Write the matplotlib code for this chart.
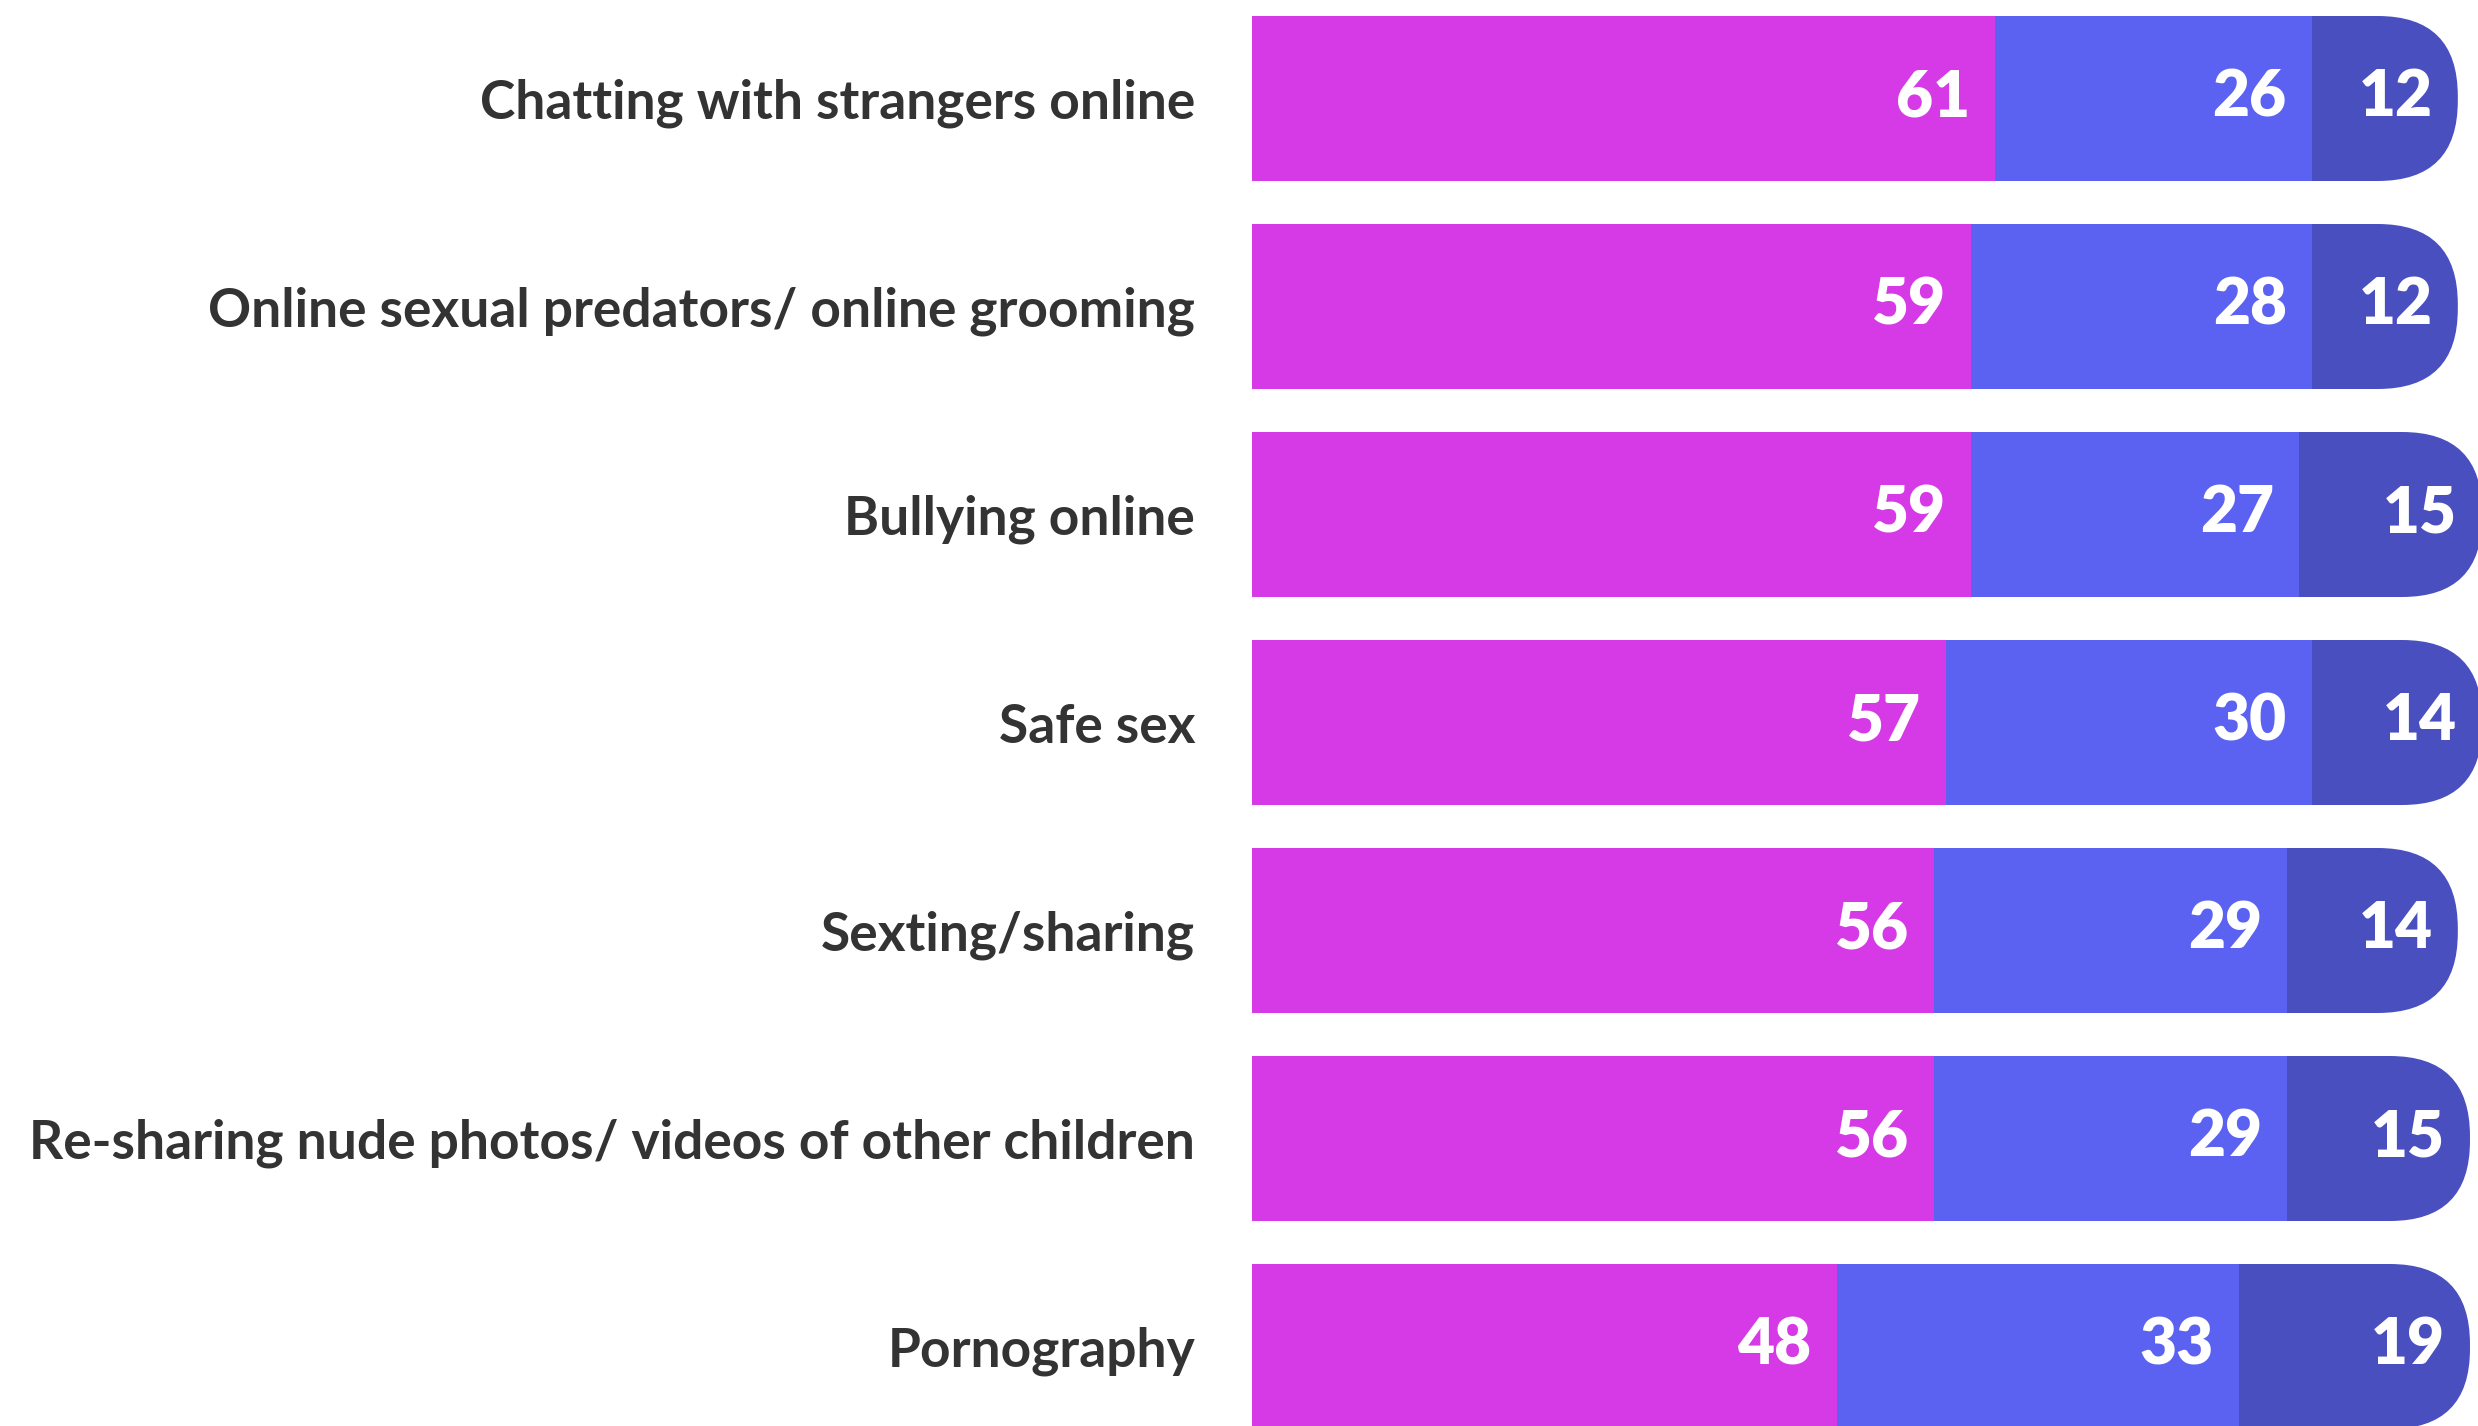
import matplotlib
matplotlib.use("Agg")
import matplotlib.pyplot as plt
from matplotlib.patches import FancyBboxPatch

categories = [
    "Chatting with strangers online",
    "Online sexual predators/ online grooming",
    "Bullying online",
    "Safe sex",
    "Sexting/sharing",
    "Re-sharing nude photos/ videos of other children",
    "Pornography",
]
seg1 = [61, 59, 59, 57, 56, 56, 48]
seg2 = [26, 28, 27, 30, 29, 29, 33]
seg3 = [12, 12, 15, 14, 14, 15, 19]

COLORS = ["#d63ae6", "#5b61f0", "#4a4fc0"]
TEXT = "#333333"

W, H = 2478, 1426
PX_X = 12.18          # px per percentage point
PX_ROW = 208          # px per row
BAR_H = 165 / PX_ROW
R_PX = 80             # rounding radius of the right end (px)
X0_PX = 1252          # bar start
ROW0_PX = 98.5        # first row centre from top

fig = plt.figure(figsize=(W / 100, H / 100), dpi=100)
ax = fig.add_axes([X0_PX / W, 0, 1 - X0_PX / W, 1])
ax.set_xlim(0, (W - X0_PX) / PX_X)
ax.set_ylim((H - ROW0_PX) / PX_ROW, -ROW0_PX / PX_ROW)
for s in ax.spines.values():
    s.set_visible(False)
ax.set_xticks([])

ys = list(range(len(categories)))
r_x = R_PX / PX_X
aspect = PX_X / PX_ROW

for y, a, b, c in zip(ys, seg1, seg2, seg3):
    # dark end piece with rounded right side; left corners hidden under the middle bar
    ax.add_patch(FancyBboxPatch((a + b - r_x, y - BAR_H / 2), c + r_x, BAR_H,
                                boxstyle=f"round,pad=0,rounding_size={r_x}",
                                mutation_aspect=aspect, facecolor=COLORS[2],
                                edgecolor="none", zorder=1))
ax.barh(ys, seg1, height=BAR_H, color=COLORS[0], zorder=3)
ax.barh(ys, seg2, left=seg1, height=BAR_H, color=COLORS[1], zorder=2)

num_font = dict(color="white", fontsize=46, fontweight="heavy", family="Lato",
                ha="right", va="center_baseline", zorder=5)
pad = 25 / PX_X
for y, a, b, c in zip(ys, seg1, seg2, seg3):
    ax.text(a - pad, y - 0.03, str(a), **num_font)
    ax.text(a + b - pad, y - 0.03, str(b), **num_font)
    ax.text(a + b + c - pad, y - 0.03, str(c), **num_font)

ax.set_yticks(ys)
ax.set_yticklabels(categories, fontsize=38.4, fontweight="bold", family="Lato", color=TEXT)
ax.tick_params(axis="y", length=0, pad=41)

fig.savefig("out.png", dpi=100)
